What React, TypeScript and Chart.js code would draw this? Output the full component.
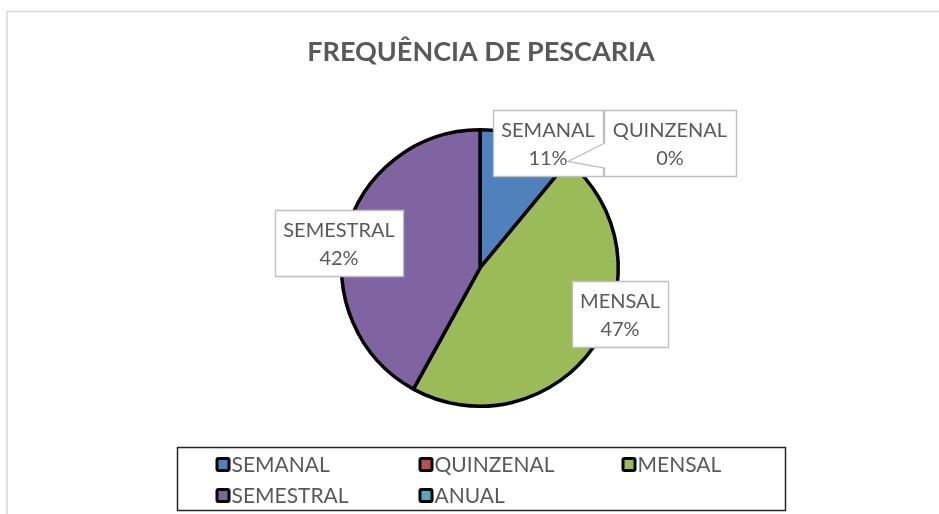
import React, { useEffect, useRef } from 'react';
import { Chart, registerables } from 'chart.js';

Chart.register(...registerables);

// ---- data ----
const TITLE = 'FREQUÊNCIA DE PESCARIA';
const categories = ['SEMANAL', 'QUINZENAL', 'MENSAL', 'SEMESTRAL', 'ANUAL'];
const values = [11, 0, 47, 42, 0];
const colors = ['#4F81BD', '#C0504D', '#9BBB59', '#8064A2', '#4BACC6'];
// which categories get a data callout
const showLabel = [true, true, true, true, false];

// ---- layout / style (not data) ----
const W = 939;
const H = 514;
const TEXT = '#595959';
const FONT = 'Lato, "Open Sans", sans-serif';
// label box centers relative to pie center, in px
const labelOffsets: Array<[number, number] | null> = [
  [68, -125],
  [190, -125],
  [140, 46],
  [-141, -25.5],
  null,
];
const labelHasPointer = [false, true, false, false, false];

const decorPlugin = {
  id: 'decor',
  beforeDraw(chart: any) {
    const ctx = chart.ctx;
    ctx.save();
    ctx.fillStyle = '#ffffff';
    ctx.fillRect(0, 0, W, H);
    ctx.strokeStyle = '#D9D9D9';
    ctx.lineWidth = 1.5;
    ctx.strokeRect(7, 11.5, 3000, 3000);
    ctx.restore();
  },
  afterDraw(chart: any) {
    const ctx = chart.ctx;
    const meta = chart.getDatasetMeta(0);
    const a0 = meta.data[0];
    const cx = a0.x;
    const cy = a0.y;
    const R = a0.outerRadius;
    const total = values.reduce((s, v) => s + v, 0);

    ctx.save();
    // title
    ctx.fillStyle = TEXT;
    ctx.font = `bold 27px ${FONT}`;
    ctx.textAlign = 'center';
    ctx.textBaseline = 'middle';
    ctx.fillText(TITLE, cx + 1, 52);

    // data labels: boxes first
    ctx.font = `20px ${FONT}`;
    const boxes: any[] = [];
    categories.forEach((cat, i) => {
      const off = labelOffsets[i];
      if (!showLabel[i] || !off) return;
      const pct = Math.round((values[i] / total) * 100) + '%';
      const tw = Math.max(ctx.measureText(cat).width, ctx.measureText(pct).width);
      const bw = tw + 17;
      const bh = 66;
      const bx = cx + off[0] - bw / 2;
      const by = cy + off[1] - bh / 2;
      boxes.push({ i, cat, pct, bx, by, bw, bh, mx: cx + off[0], my: cy + off[1] });
    });
    boxes.forEach((b) => {
      ctx.beginPath();
      const x0 = Math.round(b.bx) + 0.5;
      const y0 = Math.round(b.by) + 0.5;
      const x1 = Math.round(b.bx + b.bw) + 0.5;
      const y1 = Math.round(b.by + b.bh) + 0.5;
      ctx.moveTo(x0, y0);
      ctx.lineTo(x1, y0);
      ctx.lineTo(x1, y1);
      ctx.lineTo(x0, y1);
      if (labelHasPointer[b.i]) {
        const arc = meta.data[b.i];
        const ang = arc.startAngle;
        const tx = cx + Math.cos(ang) * R;
        const ty = cy + Math.sin(ang) * R;
        ctx.lineTo(x0, b.my + 25);
        ctx.lineTo(tx, ty);
        ctx.lineTo(x0, b.my);
      }
      ctx.closePath();
      ctx.fillStyle = '#ffffff';
      ctx.fill();
      ctx.strokeStyle = '#BFBFBF';
      ctx.lineWidth = 1.3;
      ctx.stroke();
    });
    ctx.fillStyle = TEXT;
    ctx.textAlign = 'center';
    ctx.textBaseline = 'middle';
    boxes.forEach((b) => {
      ctx.fillText(b.cat, b.mx, b.my - 12);
      ctx.fillText(b.pct, b.mx, b.my + 16);
    });

    // legend box
    const lx = 177.5, ly = 447.5, lw = 608, lh = 63;
    ctx.strokeStyle = '#262626';
    ctx.lineWidth = 1.5;
    ctx.strokeRect(lx, ly, lw, lh);
    const colX = [38, 241, 444];
    const rowY = [17, 48];
    ctx.textAlign = 'left';
    ctx.font = `21px ${FONT}`;
    categories.forEach((cat, i) => {
      const col = i % 3;
      const row = Math.floor(i / 3);
      const sx = lx + colX[col];
      const sy = ly + rowY[row];
      ctx.fillStyle = colors[i];
      ctx.fillRect(sx + 1, sy - 6.5, 13, 13);
      ctx.strokeStyle = '#000000';
      ctx.lineWidth = 3;
      ctx.beginPath();
      ctx.roundRect(sx + 1.5, sy - 6, 12, 12, 1.5);
      ctx.stroke();
      ctx.fillStyle = TEXT;
      ctx.fillText(cat, sx + 16, sy + 1);
    });
    ctx.restore();
  },
};

export default function App() {
  const ref = useRef<HTMLCanvasElement | null>(null);
  useEffect(() => {
    if (!ref.current) return;
    const chart = new Chart(ref.current, {
      type: 'pie',
      data: {
        labels: categories,
        datasets: [
          {
            data: values,
            backgroundColor: colors,
            borderColor: '#000000',
            borderWidth: 3.5,
          },
        ],
      },
      options: {
        responsive: false,
        animation: false,
        events: [],
        layout: { padding: { left: 340, right: 319, top: 128, bottom: 106 } },
        plugins: {
          legend: { display: false },
          title: { display: false },
          tooltip: { enabled: false },
        },
      },
      plugins: [decorPlugin],
    });
    return () => chart.destroy();
  }, []);
  return (
    <div style={{ position: 'fixed', left: 0, top: 0, width: W, height: H, background: '#fff' }}>
      <canvas ref={ref} width={W} height={H} style={{ display: 'block' }} />
    </div>
  );
}
